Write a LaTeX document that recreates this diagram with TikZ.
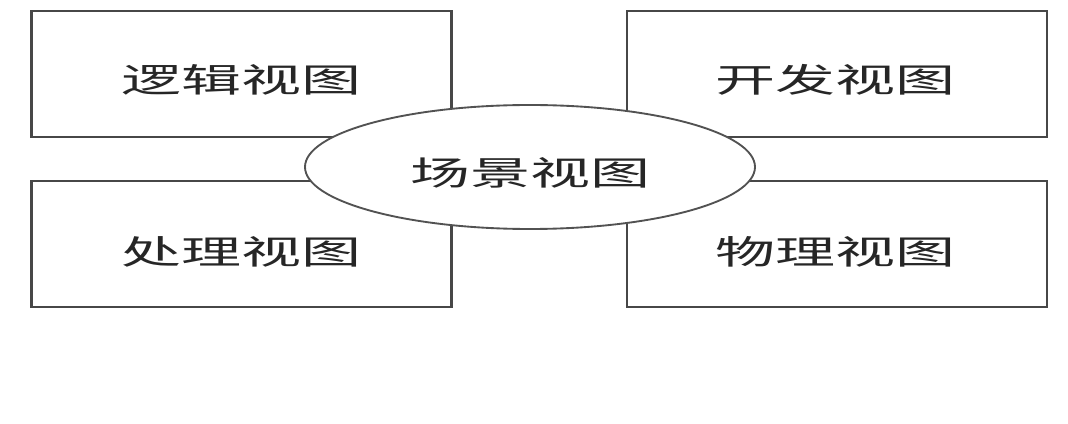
\documentclass[tikz,border=0pt]{standalone}
\usepackage{fontspec}
\newfontfamily\cjk{Noto Sans CJK SC}
\usetikzlibrary{shapes.geometric}
\begin{document}
\begin{tikzpicture}[x=0.75pt,y=-0.75pt,
  viewbox/.style={draw=black!72,line width=2.2pt,fill=white,minimum width=315pt,minimum height=94.5pt,inner sep=0pt},
  hub/.style={ellipse,draw=black!68,line width=1.4pt,fill=white,minimum width=337.5pt,minimum height=93pt,inner sep=0pt},
  lbl/.style={font=\cjk\fontsize{25}{25}\selectfont,text=black!85,inner sep=0pt}
]
\useasboundingbox (0,0) rectangle (1068,424);
% four view boxes
\node[viewbox] (logic) at (241.5,74) {};
\node[viewbox] (dev)   at (837,74) {};
\node[viewbox] (proc)  at (241.5,244) {};
\node[viewbox] (phys)  at (837,244) {};
% labels, widened horizontally
\node[lbl] (tlogic) at (241,80) {\scalebox{1.8}[1]{逻辑视图}};
\node[lbl] (tdev)   at (835,80) {\scalebox{1.8}[1]{开发视图}};
\node[lbl] (tproc)  at (241,252) {\scalebox{1.8}[1]{处理视图}};
\node[lbl] (tphys)  at (835,252) {\scalebox{1.8}[1]{物理视图}};
% central scenario ellipse
\node[hub] (scene) at (530,167) {};
\node[lbl] (tscene) at (530,173) {\scalebox{1.8}[1]{场景视图}};
\end{tikzpicture}
\end{document}
